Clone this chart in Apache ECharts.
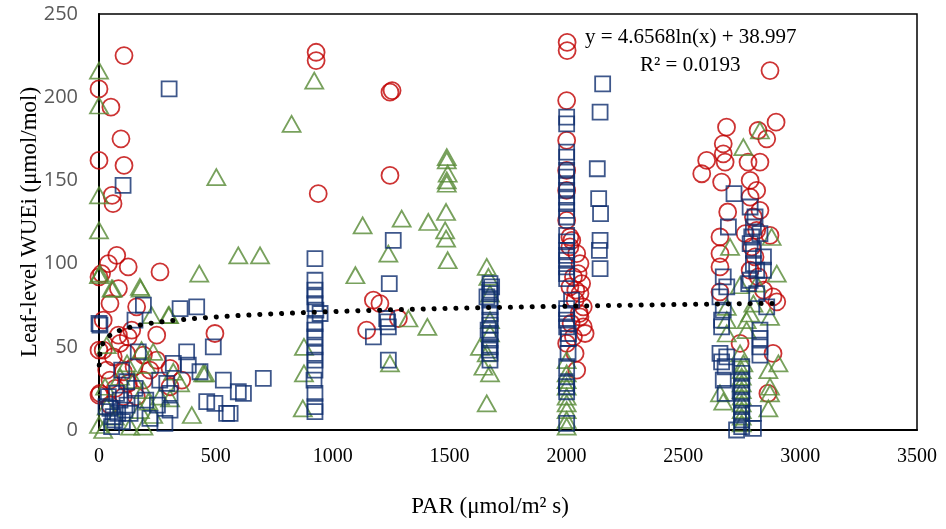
<!DOCTYPE html>
<html>
<head>
<meta charset="utf-8">
<script src="https://cdn.jsdelivr.net/npm/echarts@6/dist/echarts.min.js"></script>
<style>html,body{margin:0;padding:0;background:#fff}#c{width:946px;height:529px}</style>
</head>
<body>
<div id="c"></div>
<script>
// ---- data ----
var xTicks = [0, 500, 1000, 1500, 2000, 2500, 3000, 3500];
var yTicks = [0, 50, 100, 150, 200, 250];

var redPoints = [
  [107,225],[0,205],[51,194],[94,175],[0,162],[107,159],[56,141],[60,136],
  [929,227],[929,222],[1254,204],[1245,203],[938,142],[1245,153],
  [2003,233],[2003,228],[2001,198],[2871,216],[2897,185],
  [2685,182],[2820,180],[2857,175],[2671,172],[2600,162],[2671,166],[2679,161],[2777,161],[2828,161],
  [2579,154],[2664,149],[2786,150],[2814,144],[2786,140],[2690,131],[2828,132],[2657,116],[2871,117],
  [2657,106],[2657,98],[2884,80],[2900,77],[2743,52],[2884,46],[2862,22],[2657,83],
  [2800,128],[2814,120],[2793,110],[2807,104],[2786,96],[2821,92],[2843,84],[2765,118],
  [2001,174],[2001,156],[2001,144],[2001,126],[2023,114],[2044,106],[2058,100],[2050,94],[2065,88],
  [2058,82],[2037,78],[2072,74],[2058,68],[2072,62],[2080,58],[2030,56],[2001,52],[2037,46],[2044,36],
  [2015,116],[2015,110],[2030,92],[2015,86],[2040,84],[2055,70],[2020,64],
  [1174,78],[1202,76],[1281,67],[1145,60],
  [76,105],[40,100],[125,98],[261,95],[11,94],[83,85],[47,76],[18,66],[161,74],[83,57],[125,56],
  [247,57],[496,58],[18,48],[61,44],[118,46],[190,45],[247,42],[33,36],[104,35],[218,36],[304,37],
  [354,30],[47,30],[125,28],[4,22],[304,26],[104,20],[47,15],[190,30],[0,92],[0,48],[0,21],
  [90,52],[150,38],[140,60],[70,25],[160,20]
];

var bluePoints = [
  [300,205],[103,147],[0,64],[2155,208],[2144,191],[2132,157],[2138,139],[2146,130],[2144,114],[2141,108],[2144,97],
  [2001,188],[2001,184],[2001,167],[2001,164],[2001,156],[2001,152],[2001,148],[2001,144],[2001,140],[2001,136],
  [2001,132],[2001,128],[2001,117],[2001,113],[2001,108],[2001,105],[2001,102],[2001,98],[2001,94],[2001,91],
  [2022,78],[2001,73],[2001,70],[2001,66],[2001,62],[2008,58],[2008,55],[2007,46],[2001,38],[2001,28],[2001,26],[2001,23],[2001,4],
  [924,103],[924,90],[924,84],[924,80],[924,76],[946,70],[924,64],[924,60],[924,56],[924,50],[924,46],[924,42],
  [924,36],[920,30],[924,22],[924,14],[924,11],[928,72],
  [1259,114],[1242,88],[1231,67],[1238,62],[1174,56],[1238,42],[1235,65],
  [1673,88],[1673,84],[1673,82],[1673,78],[1673,74],[1673,70],[1673,66],[1673,63],[1673,58],[1673,54],
  [1673,50],[1673,46],[1673,42],[1660,80],[1665,60],[1670,48],[1680,86],
  [4,63],[154,66],[190,75],[347,73],[418,74],[168,47],[375,47],[489,50],[318,40],[382,39],[432,35],[97,36],
  [118,29],[154,25],[290,28],[304,22],[532,30],[596,23],[40,20],[90,18],[47,13],[111,12],[133,10],[68,6],
  [54,2],[218,7],[282,4],[304,12],[461,17],[496,16],[546,10],[703,31],[618,22],[561,10],[80,10],[60,8],
  [100,5],[120,15],[30,14],[75,22],[250,15],[200,18],[260,30],
  [2717,142],[2693,122],[2786,134],[2807,128],[2800,122],[2793,116],[2786,112],[2828,118],[2843,104],
  [2800,100],[2843,96],[2671,92],[2686,86],[2786,90],[2814,82],[2657,80],[2671,72],[2857,74],[2664,66],
  [2664,62],[2828,60],[2828,55],[2828,50],[2828,45],[2657,46],[2664,41],[2679,38],[2671,30],[2679,22],
  [2750,38],[2750,34],[2750,30],[2750,26],[2750,22],[2750,18],[2750,14],[2750,10],[2750,6],[2750,2],
  [2800,10],[2800,1],[2728,0],[2686,44],[2800,108],[2814,96],[2780,88]
];

var greenPoints = [
  [0,216],[0,195],[0,141],[0,120],[0,93],[0,3],
  [921,210],[824,184],[502,152],[1128,123],[596,105],[689,105],[429,94],[1097,93],[178,85],[59,85],[4,94],
  [300,69],[877,50],[877,34],[872,13],[446,34],[397,9],[1245,40],[1295,127],[1409,125],[1238,106],
  [1488,164],[1488,162],[1492,154],[1488,150],[1488,148],[1485,131],[1481,120],[1485,115],[1492,102],
  [1324,67],[1405,62],
  [1659,98],[1666,92],[1673,82],[1673,66],[1630,50],[1659,46],[1645,38],[1673,34],[1659,16],[1673,58],
  [2001,42],[2001,34],[2001,30],[2001,26],[2001,20],[2001,16],[2001,12],[2001,6],[2001,2],
  [2828,180],[2757,170],[2878,116],[2700,110],[2900,94],[2743,87],[2786,70],[2771,66],[2871,68],[2686,66],
  [2686,58],[2743,46],[2757,40],[2907,40],[2864,36],[2871,26],[2871,22],[2864,13],[2671,17],[2657,22],
  [2750,36],[2750,32],[2750,28],[2750,24],[2750,20],[2750,16],[2750,12],[2750,8],[2750,4],[2686,74],
  [2814,88],[2800,76],[2771,60],
  [54,85],[175,86],[297,69],[225,69],[33,51],[182,48],[232,47],[204,39],[318,35],[454,34],[26,26],
  [190,24],[261,20],[211,17],[33,14],[175,12],[18,0],[133,2],[190,2],[304,19],[347,28],[68,8],[90,32],
  [232,9],[120,40],[150,30]
];

// logarithmic trendline shown in the chart: y = 4.6568 ln(x) + 38.997
var trendA = 4.6568, trendB = 38.997, trendXMin = 1, trendXMax = 2900;
var trendPoints = [];
for (var i = 0; i <= 240; i++) {
  var x = Math.exp(Math.log(trendXMin) + (Math.log(trendXMax) - Math.log(trendXMin)) * i / 240);
  trendPoints.push([x, trendA * Math.log(x) + trendB]);
}

var chart = echarts.init(document.getElementById('c'));
var serif = '"Liberation Serif","Times New Roman",serif';
chart.setOption({
  animation: false,
  grid: {left: 99, top: 14, right: 29, bottom: 99, show: true, borderColor: '#000', borderWidth: 1.5, backgroundColor: 'transparent'},
  xAxis: {
    type: 'value', min: 0, max: 3500, interval: 500,
    axisLine: {show: true, onZero: false, lineStyle: {color: '#000', width: 2}},
    axisTick: {show: false}, splitLine: {show: false},
    axisLabel: {color: '#000', fontFamily: serif, fontSize: 20, margin: 17,
                formatter: function (v) { return String(v); }}
  },
  yAxis: {
    type: 'value', min: 0, max: 250, interval: 50,
    axisLine: {show: true, onZero: false, lineStyle: {color: '#000', width: 2}},
    axisTick: {show: false}, splitLine: {show: false},
    axisLabel: {color: '#595959', fontFamily: '"Open Sans","Liberation Sans",sans-serif', fontSize: 20, margin: 21,
                formatter: function (v) { return String(v); }}
  },
  series: [
    {type: 'scatter', data: redPoints, symbol: 'circle', symbolSize: 17,
     itemStyle: {color: 'rgba(0,0,0,0)', borderColor: '#C00000', borderWidth: 1.8}},
    {type: 'scatter', data: greenPoints, symbol: 'triangle', symbolSize: [18, 16],
     itemStyle: {color: 'rgba(0,0,0,0)', borderColor: '#568A35', borderWidth: 1.8}},
    {type: 'scatter', data: bluePoints, symbol: 'rect', symbolSize: 15,
     itemStyle: {color: 'rgba(0,0,0,0)', borderColor: '#0E2D6E', borderWidth: 1.8}},
    {type: 'line', data: trendPoints, showSymbol: false, silent: true, z: 5,
     lineStyle: {color: '#000', width: 5, type: [0.1, 10.8], cap: 'round'}}
  ],
  graphic: [
    {type: 'text', left: 585, top: 27, style: {text: 'y = 4.6568ln(x) + 38.997', font: '21px ' + serif, fill: '#000'}},
    {type: 'text', left: 640, top: 55, style: {text: 'R² = 0.0193', font: '21px ' + serif, fill: '#000'}},
    {type: 'text', x: 490, y: 507, style: {text: 'PAR (μmol/m² s)', font: '23px ' + serif, fill: '#000', align: 'center', verticalAlign: 'middle'}},
    {type: 'text', x: 30, y: 222, rotation: Math.PI / 2, style: {text: 'Leaf-level WUEi (μmol/mol)', font: '23px ' + serif, fill: '#000', align: 'center', verticalAlign: 'middle'}}
  ]
});
</script>
</body>
</html>
